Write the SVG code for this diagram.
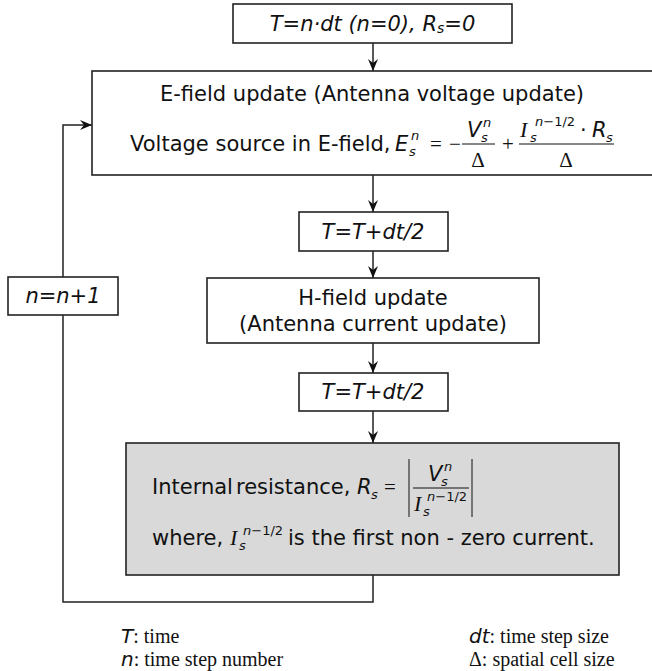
<svg xmlns="http://www.w3.org/2000/svg" width="652" height="671" viewBox="0 0 652 671">
<style>
.box{fill:#fff;stroke:#222;stroke-width:1.6}
.gray{fill:#d9d9d9;stroke:#222;stroke-width:1.6}
.t{font-family:"DejaVu Sans",Verdana,sans-serif;font-size:21px;fill:#111}
.i{font-style:italic}
.m{font-family:"Liberation Serif","Times New Roman",serif;fill:#111}
.sm{font-size:13px}
.c{text-anchor:middle}
.ln{fill:none;stroke:#222;stroke-width:1.5}
.lg{font-family:"Liberation Serif","Times New Roman",serif;font-size:20px;fill:#111}
.ls{font-family:"DejaVu Sans",sans-serif;font-style:italic;font-size:20px}
</style>
<defs>
<marker id="ah" markerUnits="userSpaceOnUse" markerWidth="12" markerHeight="12" refX="12" refY="5" orient="auto">
<path d="M0,0 L12,5 L0,10 L4,5 z" fill="#111"/>
</marker>
</defs>
<g id="connectors">
<line class="ln" x1="373" y1="43" x2="373" y2="71" marker-end="url(#ah)"/>
<line class="ln" x1="373" y1="175" x2="373" y2="212" marker-end="url(#ah)"/>
<line class="ln" x1="373" y1="251" x2="373" y2="278" marker-end="url(#ah)"/>
<line class="ln" x1="373" y1="343" x2="373" y2="373" marker-end="url(#ah)"/>
<line class="ln" x1="373" y1="411" x2="373" y2="443" marker-end="url(#ah)"/>
<polyline class="ln" points="373,575 373,602 63,602 63,315"/>
<polyline class="ln" points="63,277 63,125 92,125" marker-end="url(#ah)"/>
</g>
<g id="init">
<rect class="box" x="233" y="4" width="279" height="39"/>
<text class="t i" x="372.5" y="31" text-anchor="middle" font-size="20">T=n·dt (n=0), R<tspan font-size="14" dy="2">s</tspan><tspan dy="-2">=0</tspan></text>
</g>
<g id="efield">
<rect class="box" x="92" y="71" width="570" height="104"/>
<text class="t c" x="372" y="101">E-field update (Antenna voltage update)</text>
<text class="t" x="130" y="151">Voltage source in E-field,</text>
<text class="t i" x="395" y="151">E</text>
<text class="t i sm" x="409" y="156">s</text>
<text class="t i sm" x="411" y="140">n</text>
<text class="m" x="430" y="151" font-size="21">=</text>
<text class="m" x="449" y="151" font-size="21">−</text>
<line x1="462" y1="144" x2="495" y2="144" stroke="#111" stroke-width="1"/>
<text class="t i" x="467" y="137">V</text>
<text class="t i sm" x="481" y="142">s</text>
<text class="t i sm" x="483" y="127">n</text>
<text class="m c" x="478" y="167" font-size="21">Δ</text>
<text class="m c" x="508" y="151" font-size="21">+</text>
<line x1="519" y1="144" x2="614" y2="144" stroke="#111" stroke-width="1"/>
<text class="m i" x="520" y="137" font-size="22">I</text>
<text class="t i sm" x="530" y="142">s</text>
<text class="t sm" x="535" y="126"><tspan font-style="italic">n</tspan>−1/2</text>
<text class="t" x="580" y="137">·</text>
<text class="t i" x="592" y="137">R</text>
<text class="t i sm" x="606" y="142">s</text>
<text class="m c" x="566" y="167" font-size="21">Δ</text>
</g>
<g id="half1">
<rect class="box" x="299" y="212" width="149" height="39"/>
<text class="t i c" x="373" y="239">T=T+dt/2</text>
</g>
<g id="hfield">
<rect class="box" x="207" y="278" width="332" height="65"/>
<text class="t c" x="373" y="305">H-field update</text>
<text class="t c" x="373" y="331">(Antenna current update)</text>
</g>
<g id="half2">
<rect class="box" x="299" y="373" width="149" height="38"/>
<text class="t i c" x="373" y="399">T=T+dt/2</text>
</g>
<g id="nstep">
<rect class="box" x="8" y="277" width="110" height="38"/>
<text class="t i c" x="63" y="303">n=n+1</text>
</g>
<g id="resist">
<rect class="gray" x="126" y="443" width="493" height="132"/>
<text class="t" x="152" y="494">Internal</text>
<text class="t" x="236" y="494">resistance,</text>
<text class="t i" x="357" y="494">R</text>
<text class="t i sm" x="371" y="499">s</text>
<text class="m" x="384" y="494" font-size="21">=</text>
<line x1="409" y1="459" x2="409" y2="517" stroke="#111" stroke-width="1"/>
<line x1="472" y1="459" x2="472" y2="517" stroke="#111" stroke-width="1"/>
<line x1="413" y1="488" x2="469" y2="488" stroke="#111" stroke-width="1"/>
<text class="t i" x="428" y="481">V</text>
<text class="t i sm" x="441" y="486">s</text>
<text class="t i sm" x="444" y="471">n</text>
<text class="m i" x="414" y="511" font-size="22">I</text>
<text class="t i sm" x="423" y="516">s</text>
<text class="t sm" x="427" y="501"><tspan font-style="italic">n</tspan>−1/2</text>
<text class="t" x="152" y="545">where,</text>
<text class="m i" x="230" y="545" font-size="22">I</text>
<text class="t i sm" x="239" y="550">s</text>
<text class="t sm" x="243" y="535"><tspan font-style="italic">n</tspan>−1/2</text>
<text class="t" x="288" y="545">is the first non - zero current.</text>
</g>
<g id="legend">
<text class="lg" x="121" y="643"><tspan class="ls">T</tspan>: time</text>
<text class="lg" x="121" y="666"><tspan class="ls">n</tspan>: time step number</text>
<text class="lg" x="469" y="643"><tspan class="ls">dt</tspan>: time step size</text>
<text class="lg" x="469" y="666">Δ: spatial cell size</text>
</g>
</svg>
